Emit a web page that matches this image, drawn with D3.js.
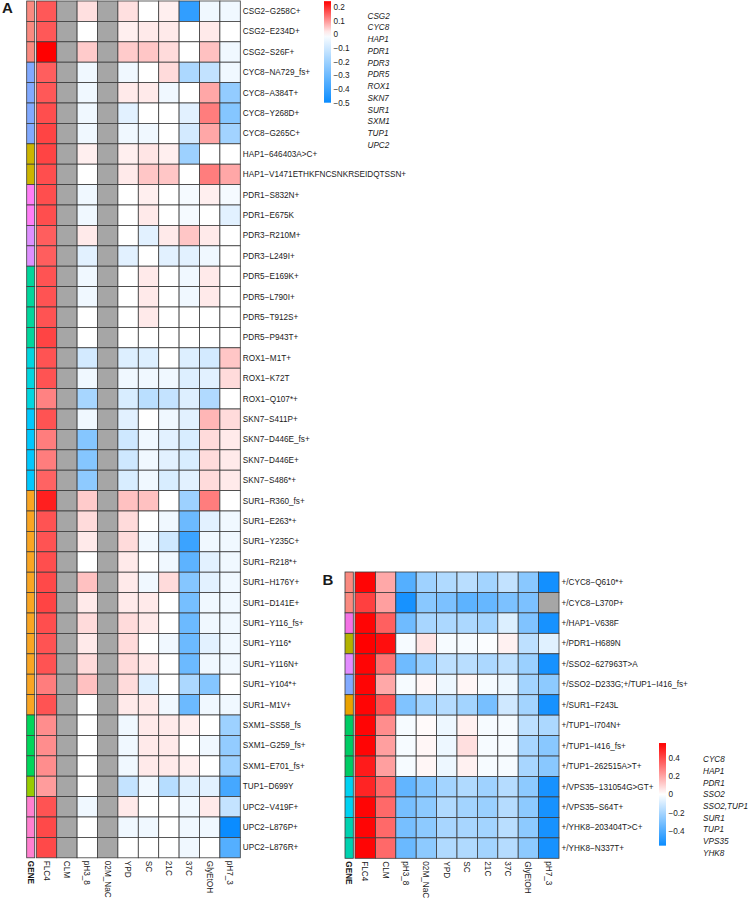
<!DOCTYPE html>
<html>
<head>
<meta charset="utf-8">
<script src="https://cdn.jsdelivr.net/npm/d3@7"></script>
<style>
  body { margin: 0; background: #fff; }
  svg text { font-family: "Liberation Sans", Arial, sans-serif; fill: #1a1a1a; }
</style>
</head>
<body>
<div id="figure"></div>
<script>
// conditions (columns), same for both panels
var conditions = ["FLC4", "CLM", "pH3_8", "02M_NaCl", "YPD", "SC", "21C", "37C", "GlyEtOH", "pH7_3"];

// ---- panel A ----
var rowsA = ["CSG2−G258C+", "CSG2−E234D+", "CSG2−S26F+", "CYC8−NA729_fs+", "CYC8−A384T+", "CYC8−Y268D+", "CYC8−G265C+",
  "HAP1−646403A>C+", "HAP1−V1471ETHKFNCSNKRSEIDQTSSN+", "PDR1−S832N+", "PDR1−E675K", "PDR3−R210M+", "PDR3−L249I+",
  "PDR5−E169K+", "PDR5−L790I+", "PDR5−T912S+", "PDR5−P943T+", "ROX1−M1T+", "ROX1−K72T", "ROX1−Q107*+",
  "SKN7−S411P+", "SKN7−D446E_fs+", "SKN7−D446E+", "SKN7−S486*+", "SUR1−R360_fs+", "SUR1−E263*+", "SUR1−Y235C+",
  "SUR1−R218*+", "SUR1−H176Y+", "SUR1−D141E+", "SUR1−Y116_fs+", "SUR1−Y116*", "SUR1−Y116N+", "SUR1−Y104*+",
  "SUR1−M1V+", "SXM1−SS58_fs", "SXM1−G259_fs+", "SXM1−E701_fs+", "TUP1−D699Y", "UPC2−V419F+", "UPC2−L876P+", "UPC2−L876R+"];
var genesA = ["CSG2", "CSG2", "CSG2", "CYC8", "CYC8", "CYC8", "CYC8", "HAP1", "HAP1", "PDR1", "PDR1", "PDR3", "PDR3",
  "PDR5", "PDR5", "PDR5", "PDR5", "ROX1", "ROX1", "ROX1", "SKN7", "SKN7", "SKN7", "SKN7",
  "SUR1", "SUR1", "SUR1", "SUR1", "SUR1", "SUR1", "SUR1", "SUR1", "SUR1", "SUR1", "SUR1",
  "SXM1", "SXM1", "SXM1", "TUP1", "UPC2", "UPC2", "UPC2"];
var geneLevelsA = ["CSG2", "CYC8", "HAP1", "PDR1", "PDR3", "PDR5", "ROX1", "SKN7", "SUR1", "SXM1", "TUP1", "UPC2"];
// FLC4, CLM, pH3_8, 02M_NaCl, YPD, SC, 21C, 37C, GlyEtOH, pH7_3  (null = no data)
var valsA = [
  [0.16, null, 0.03, null, 0.03, 0, 0.015, -0.42, -0.03, -0.03],
  [0.16, null, 0, null, 0.015, 0.02, 0.02, 0, 0.02, 0],
  [0.245, null, 0.05, null, 0.05, 0.055, 0.035, 0, 0.06, -0.03],
  [0.155, null, -0.03, null, -0.03, 0, 0.035, -0.17, -0.125, -0.03],
  [0.16, null, -0.03, null, 0.02, 0.02, -0.03, 0, 0.085, -0.22],
  [0.17, null, -0.03, null, -0.06, 0, 0, -0.06, 0.125, -0.25],
  [0.18, null, -0.03, null, -0.03, -0.03, 0, -0.09, 0.085, -0.19],
  [0.18, null, 0.015, null, 0.015, 0.025, 0.015, -0.2, 0, 0],
  [0.17, null, 0, null, 0.02, 0.055, 0.055, 0, 0.125, 0.085],
  [0.17, null, -0.03, null, 0, 0.015, 0, -0.02, 0.015, -0.02],
  [0.17, null, -0.03, null, 0, 0.02, 0, -0.02, 0, -0.06],
  [0.155, null, 0.02, null, 0, -0.06, 0.02, 0.055, 0.02, 0],
  [0.155, null, -0.06, null, -0.06, 0, -0.06, -0.06, -0.03, 0],
  [0.165, null, -0.03, null, 0, 0.02, 0, -0.03, 0.02, 0],
  [0.165, null, -0.03, null, 0, 0.02, 0, -0.03, 0.02, 0],
  [0.165, null, 0, null, 0, 0.02, 0, 0, 0, 0],
  [0.18, null, 0, null, 0, 0, 0, 0, 0, 0],
  [0.165, null, -0.09, null, -0.07, -0.07, 0, -0.07, -0.09, 0.055],
  [0.165, null, -0.03, null, -0.03, -0.03, -0.03, -0.07, -0.06, 0.035],
  [0.12, null, -0.18, null, -0.08, -0.14, -0.12, -0.07, -0.16, 0],
  [0.165, null, -0.03, null, -0.06, 0, -0.03, -0.06, 0.07, 0.035],
  [0.125, null, -0.25, null, -0.1, -0.03, -0.06, -0.08, 0.035, 0.02],
  [0.125, null, -0.25, null, -0.1, -0.03, -0.06, -0.08, 0.035, 0.02],
  [0.15, null, -0.23, null, -0.08, -0.03, -0.08, -0.06, 0.035, 0.02],
  [0.215, null, 0.05, null, 0.06, 0.06, 0, -0.2, 0.125, 0],
  [0.165, null, 0.035, null, 0.035, 0, -0.03, -0.3, -0.06, -0.03],
  [0.165, null, 0.02, null, 0.035, -0.03, -0.1, -0.4, -0.03, -0.03],
  [0.17, null, 0, null, 0.02, 0, -0.03, -0.33, -0.06, -0.03],
  [0.175, null, 0.06, null, 0.02, -0.03, 0.035, -0.25, -0.06, -0.03],
  [0.18, null, 0.02, null, 0.02, 0.02, 0, -0.28, -0.03, -0.03],
  [0.17, null, 0.035, null, 0.035, 0.02, 0, -0.3, -0.03, -0.03],
  [0.165, null, 0.02, null, 0.035, 0, -0.03, -0.3, -0.06, -0.03],
  [0.165, null, 0.035, null, 0.035, 0.02, 0, -0.3, -0.03, -0.03],
  [0.125, null, 0.06, null, 0.035, -0.07, 0, -0.17, -0.25, 0],
  [0.165, null, 0, null, 0.02, 0.02, -0.03, -0.3, -0.03, -0.03],
  [0.11, null, 0, null, -0.03, 0.02, 0.02, 0.015, 0, -0.2],
  [0.11, null, 0, null, -0.03, 0.02, 0.02, 0, -0.03, -0.22],
  [0.11, null, 0, null, -0.03, 0.02, 0.02, 0.015, 0, -0.2],
  [0.095, null, 0, null, -0.12, -0.03, -0.15, -0.07, -0.06, -0.38],
  [0.165, null, -0.03, null, 0.02, 0, 0, -0.03, 0.02, -0.12],
  [0.175, null, 0, null, -0.03, -0.03, 0, -0.03, -0.03, -0.5],
  [0.175, null, 0, null, 0, 0, 0, -0.03, 0, -0.35]
];
var ticksA = [0.2, 0.1, 0, -0.1, -0.2, -0.3, -0.4, -0.5];

// ---- panel B ----
var rowsB = ["+/CYC8−Q610*+", "+/CYC8−L370P+", "+/HAP1−V638F", "+/PDR1−H689N", "+/SSO2−627963T>A",
  "+/SSO2−D233G;+/TUP1−I416_fs+", "+/SUR1−F243L", "+/TUP1−I704N+", "+/TUP1−I416_fs+", "+/TUP1−262515A>T+",
  "+/VPS35−131054G>GT+", "+/VPS35−S64T+", "+/YHK8−203404T>C+", "+/YHK8−N337T+"];
var genesB = ["CYC8", "CYC8", "HAP1", "PDR1", "SSO2", "SSO2,TUP1", "SUR1", "TUP1", "TUP1", "TUP1",
  "VPS35", "VPS35", "YHK8", "YHK8"];
var geneLevelsB = ["CYC8", "HAP1", "PDR1", "SSO2", "SSO2,TUP1", "SUR1", "TUP1", "VPS35", "YHK8"];
var valsB = [
  [0.55, 0.19, -0.39, -0.22, -0.18, -0.16, -0.21, -0.14, -0.27, -0.54],
  [0.42, 0.21, -0.53, -0.27, -0.3, -0.37, -0.35, -0.3, -0.3, null],
  [0.55, 0.35, -0.33, -0.2, -0.19, -0.19, -0.21, -0.08, -0.29, -0.53],
  [0.56, 0.53, -0.02, 0.06, -0.02, -0.02, -0.01, 0.03, -0.15, -0.07],
  [0.55, 0.31, -0.33, -0.23, -0.15, -0.16, -0.19, -0.15, -0.23, -0.53],
  [0.55, 0.19, -0.02, 0.02, -0.04, 0.02, -0.02, -0.04, -0.21, -0.26],
  [0.55, 0.38, -0.29, -0.21, -0.17, -0.21, -0.31, -0.11, -0.21, -0.53],
  [0.55, 0.25, -0.02, 0.01, -0.04, 0.03, -0.02, -0.02, -0.15, -0.19],
  [0.55, 0.21, -0.02, 0.02, -0.04, 0.07, -0.02, -0.02, -0.2, -0.27],
  [0.5, 0.21, -0.02, 0.02, -0.04, 0.03, -0.02, -0.02, -0.2, -0.27],
  [0.48, 0.33, -0.36, -0.28, -0.21, -0.18, -0.22, -0.17, -0.26, -0.53],
  [0.55, 0.33, -0.31, -0.26, -0.18, -0.21, -0.23, -0.17, -0.26, -0.53],
  [0.55, 0.33, -0.31, -0.26, -0.2, -0.2, -0.21, -0.16, -0.26, -0.53],
  [0.55, 0.33, -0.34, -0.26, -0.18, -0.18, -0.21, -0.17, -0.26, -0.53]
];
var ticksB = [0.4, 0.2, 0, -0.2, -0.4];

// annotation colours
var geneColA = {
  CSG2: "#fa8a80", CYC8: "#82aaff", HAP1: "#ccb400", PDR1: "#ff7ef6", PDR3: "#de90ff", PDR5: "#00d69c",
  ROX1: "#00d6e0", SKN7: "#00c8ff", SUR1: "#f9a523", SXM1: "#00d65a", TUP1: "#98cc00", UPC2: "#ff80d0"
};
var geneColB = {
  CYC8: "#fa8a80", HAP1: "#f472e4", PDR1: "#b2b200", SSO2: "#e38cff", "SSO2,TUP1": "#82aaff",
  SUR1: "#eaa200", TUP1: "#00cc64", VPS35: "#00d2f2", YHK8: "#00d2b0"
};

var W = 748, H = 898;
var FS = 8.2;
var svg = d3.select("#figure").append("svg").attr("width", W).attr("height", H);

var NA_COL = "#a6a6a6";
var BORDER = "#3c3c3c";

function drawPanel(opt) {
    var g = svg.append("g");
    var x = d3.scaleBand().domain(conditions).range([opt.x0, opt.x1]);
    var y = d3.scaleBand().domain(opt.rows).range([opt.y0, opt.y1]);
    var color = d3.scaleLinear().domain([opt.lo, 0, opt.hi]).range(["#0a8cff", "#ffffff", "#ff0000"]).clamp(true);

    var cells = [];
    opt.vals.forEach(function (r, i) {
        r.forEach(function (v, j) {
            cells.push({ row: opt.rows[i], col: conditions[j], v: v });
        });
    });

    g.selectAll(null)
        .data(cells)
        .enter()
        .append("rect")
        .attr("x", function (d) { return x(d.col) })
        .attr("y", function (d) { return y(d.row) })
        .attr("width", x.bandwidth())
        .attr("height", y.bandwidth())
        .attr("fill", function (d) { return d.v === null ? NA_COL : color(d.v) })
        .attr("stroke", BORDER)
        .attr("stroke-width", 0.8)

    // gene annotation strip
    g.selectAll(null)
        .data(opt.rows)
        .enter()
        .append("rect")
        .attr("x", opt.ax0)
        .attr("y", function (d) { return y(d) })
        .attr("width", opt.ax1 - opt.ax0)
        .attr("height", y.bandwidth())
        .attr("fill", function (d, i) { return opt.geneCol[opt.genes[i]] })
        .attr("stroke", BORDER)
        .attr("stroke-width", 0.8)

    // row labels
    g.selectAll(null)
        .data(opt.rows)
        .enter()
        .append("text")
        .attr("x", opt.x1 + 2.5)
        .attr("y", function (d) { return y(d) + y.bandwidth() / 2 })
        .attr("dy", "0.35em")
        .attr("font-size", FS)
        .text(function (d) { return d })

    // column labels, rotated
    var colLab = ["GENE"].concat(conditions);
    g.selectAll(null)
        .data(colLab)
        .enter()
        .append("text")
        .attr("transform", function (d) {
            var cx = d === "GENE" ? (opt.ax0 + opt.ax1) / 2 : x(d) + x.bandwidth() / 2;
            return "translate(" + (cx - 3) + "," + (opt.y1 + 3) + ") rotate(90)";
        })
        .attr("font-size", FS)
        .attr("font-weight", function (d) { return d === "GENE" ? "bold" : "normal" })
        .text(function (d) { return d })

    // colour bar
    var ly = d3.scaleLinear().domain([opt.tickHi, opt.tickLo]).range([opt.ly0, opt.ly1]);
    var gid = "grad" + opt.name;
    var grad = svg.append("defs").append("linearGradient")
        .attr("id", gid).attr("x1", 0).attr("y1", 0).attr("x2", 0).attr("y2", 1);
    var stops = d3.range(0, 21).map(function (k) { return opt.hi - (opt.hi - opt.lo) * k / 20 });
    grad.selectAll("stop")
        .data(stops)
        .enter()
        .append("stop")
        .attr("offset", function (d, k) { return (k / 20 * 100) + "%" })
        .attr("stop-color", function (d) { return color(d) })
    g.append("rect")
        .attr("x", opt.lx)
        .attr("y", ly(opt.hi))
        .attr("width", 7)
        .attr("height", ly(opt.lo) - ly(opt.hi))
        .attr("fill", "url(#" + gid + ")")
    g.selectAll(null)
        .data(opt.ticks)
        .enter()
        .append("text")
        .attr("x", opt.lx + 9.5)
        .attr("y", function (d) { return ly(d) })
        .attr("dy", "0.35em")
        .attr("font-size", FS)
        .text(function (d) { return d === 0 ? "0" : String(d).replace("-", "\u2212") })

    // gene legend (italic names)
    g.selectAll(null)
        .data(opt.levels)
        .enter()
        .append("text")
        .attr("x", opt.gx)
        .attr("y", function (d, i) { return opt.gy + i * opt.gstep })
        .attr("dy", "0.35em")
        .attr("font-size", FS)
        .attr("font-style", "italic")
        .text(function (d) { return d })

    // panel letter
    g.append("text")
        .attr("x", opt.px)
        .attr("y", opt.py)
        .attr("font-size", 15)
        .attr("font-weight", "bold")
        .text(opt.name)
}

drawPanel({
    name: "A", rows: rowsA, genes: genesA, vals: valsA, levels: geneLevelsA, geneCol: geneColA,
    x0: 36.3, x1: 240.3, y0: 1, y1: 857.8, ax0: 26.7, ax1: 34.7,
    lo: -0.5, hi: 0.245, ticks: ticksA, tickHi: 0.2, tickLo: -0.5, ly0: 7.3, ly1: 102.7, lx: 324,
    gx: 367.5, gy: 15.7, gstep: 11.75, px: 2, py: 12.5
});

drawPanel({
    name: "B", rows: rowsB, genes: genesB, vals: valsB, levels: geneLevelsB, geneCol: geneColB,
    x0: 355, x1: 559, y0: 572, y1: 858.3, ax0: 345, ax1: 353.3,
    lo: -0.56, hi: 0.56, ticks: ticksB, tickHi: 0.4, tickLo: -0.4, ly0: 757.7, ly1: 831, lx: 659,
    gx: 703, gy: 759.3, gstep: 11.7, px: 322.5, py: 584.5
});
</script>
</body>
</html>
